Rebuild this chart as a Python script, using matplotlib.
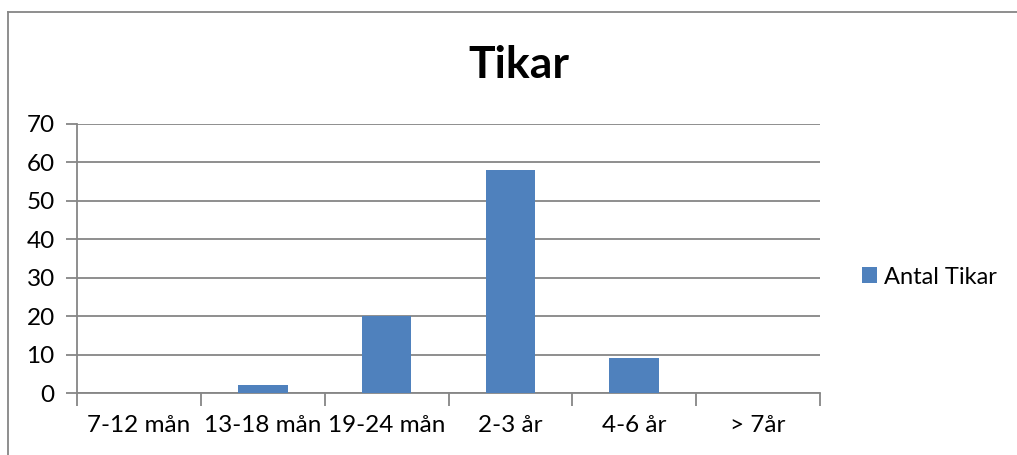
import numpy as np
import matplotlib
matplotlib.use("Agg")
import matplotlib.pyplot as plt
from matplotlib.lines import Line2D

matplotlib.rcParams['font.family'] = 'Lato'

categories = ["7-12 mån", "13-18 mån", "19-24 mån", "2-3 år", "4-6 år", "> 7år"]
antal_tikar = [0, 2, 20, 58, 9, 0]
yticks = [0, 10, 20, 30, 40, 50, 60, 70]

blue = "#4F81BD"
grey = "#868686"

fig = plt.figure(figsize=(10.17, 4.55), dpi=100)
ax = fig.add_axes([77/1017, 1 - 393/455, (820 - 77)/1017, (393 - 124)/455])

x = np.arange(len(categories))
ax.bar(x, antal_tikar, width=0.4, color=blue, label="Antal Tikar", zorder=3)

ax.set_xlim(-0.5, len(categories) - 0.5)
ax.set_ylim(0, 70)
ax.set_yticks(yticks)
ax.yaxis.grid(True, color=grey, linewidth=1.3, zorder=0)

# category ticks sit between categories
ax.set_xticks(np.arange(len(categories) + 1) - 0.5)
ax.set_xticklabels([])
ax.set_xticks(x, minor=True)
ax.set_xticklabels(categories, minor=True, fontsize=17.5)
ax.tick_params(axis="x", which="minor", length=0, pad=16)
ax.tick_params(axis="x", which="major", length=9, color=grey, width=1.3)
ax.tick_params(axis="y", length=8, color=grey, width=1.3, labelsize=17.5, pad=8)

for s in ["top", "right"]:
    ax.spines[s].set_visible(False)
for s in ["left", "bottom"]:
    ax.spines[s].set_color(grey)
    ax.spines[s].set_linewidth(1.3)

fig.text(519/1017, 1 - 65/455, "Tikar", fontsize=32, fontweight="bold",
         ha="center", va="center")

ax.legend(loc="center left", bbox_to_anchor=(850/1017, 1 - 277/455),
          bbox_transform=fig.transFigure, frameon=False, fontsize=17,
          handlelength=0.65, handleheight=0.65, handletextpad=0.3,
          borderpad=0)

# chart frame
fig.add_artist(Line2D([8/1017, 8/1017], [0, 1 - 12/455], color=grey,
                      linewidth=1.3, transform=fig.transFigure))
fig.add_artist(Line2D([8/1017, 1], [1 - 12/455, 1 - 12/455], color=grey,
                      linewidth=1.3, transform=fig.transFigure))

fig.savefig("out.png", dpi=100)
